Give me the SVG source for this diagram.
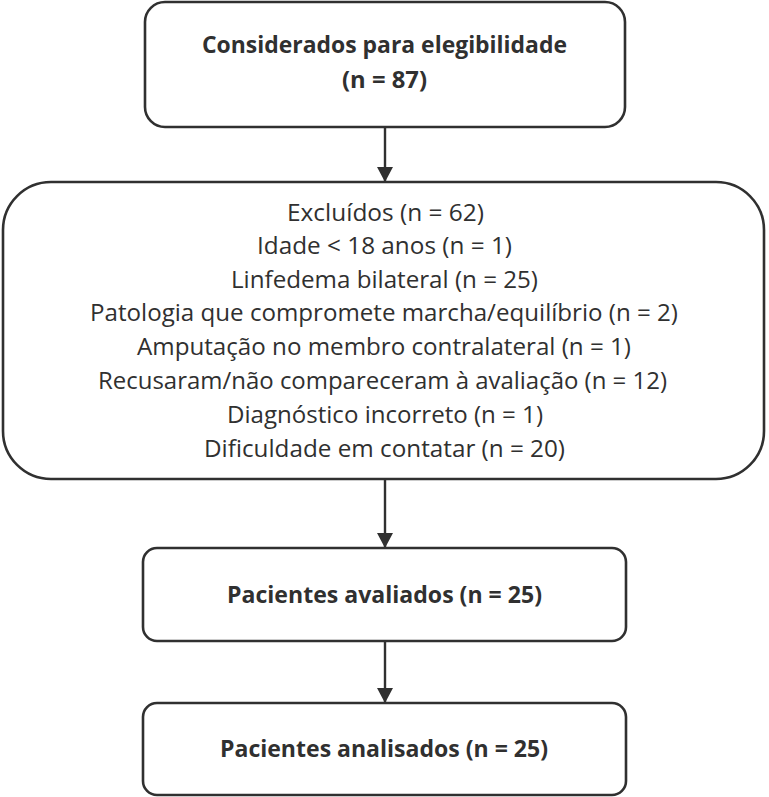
<svg xmlns="http://www.w3.org/2000/svg" width="769" height="797" viewBox="0 0 769 797">
<style>
.box{fill:#ffffff;stroke:#303030;stroke-width:2.6}
.t{font-family:"Open Sans","Lato","Liberation Sans",sans-serif;font-size:23px;fill:#303030;text-anchor:middle}
.b{font-weight:bold}
.edge{stroke:#303030;stroke-width:2.4;fill:none}
</style>
<defs>
<marker id="ah" markerUnits="userSpaceOnUse" markerWidth="16" markerHeight="16" viewBox="0 0 16 16" refX="15" refY="8" orient="auto">
<path d="M0,0 L15,8 L0,16 Z" fill="#303030"/>
</marker>
</defs>
<rect width="769" height="797" fill="#ffffff"/>
<g id="connectors">
<line class="edge" x1="385" y1="127" x2="385" y2="182" marker-end="url(#ah)"/>
<line class="edge" x1="385" y1="479" x2="385" y2="548" marker-end="url(#ah)"/>
<line class="edge" x1="385" y1="641" x2="385" y2="703" marker-end="url(#ah)"/>
</g>
<g id="node-eligibility">
<rect class="box" x="145" y="2" width="480" height="125" rx="20"/>
<text class="t b" x="384.5" y="53" textLength="365" lengthAdjust="spacingAndGlyphs">Considerados para elegibilidade</text>
<text class="t b" x="384.5" y="88" textLength="85" lengthAdjust="spacingAndGlyphs">(n = 87)</text>
</g>
<g id="node-excluded">
<rect class="box" x="3" y="182" width="761" height="297" rx="48"/>
<text class="t" x="385.5" y="220.5" textLength="197" lengthAdjust="spacingAndGlyphs">Excluídos (n = 62)</text>
<text class="t" x="384.5" y="254" textLength="255" lengthAdjust="spacingAndGlyphs">Idade &lt; 18 anos (n = 1)</text>
<text class="t" x="384.5" y="287.5" textLength="307" lengthAdjust="spacingAndGlyphs">Linfedema bilateral (n = 25)</text>
<text class="t" x="384" y="321" textLength="588" lengthAdjust="spacingAndGlyphs">Patologia que compromete marcha/equilíbrio (n = 2)</text>
<text class="t" x="384" y="355" textLength="494" lengthAdjust="spacingAndGlyphs">Amputação no membro contralateral (n = 1)</text>
<text class="t" x="382.5" y="389" textLength="569" lengthAdjust="spacingAndGlyphs">Recusaram/não compareceram à avaliação (n = 12)</text>
<text class="t" x="385" y="422.5" textLength="316" lengthAdjust="spacingAndGlyphs">Diagnóstico incorreto (n = 1)</text>
<text class="t" x="384.5" y="456.5" textLength="361" lengthAdjust="spacingAndGlyphs">Dificuldade em contatar (n = 20)</text>
</g>
<g id="node-evaluated">
<rect class="box" x="143" y="548" width="483" height="93" rx="14"/>
<text class="t b" x="384.5" y="603" textLength="315" lengthAdjust="spacingAndGlyphs">Pacientes avaliados (n = 25)</text>
</g>
<g id="node-analyzed">
<rect class="box" x="143" y="703" width="483" height="92" rx="14"/>
<text class="t b" x="384" y="757" textLength="328" lengthAdjust="spacingAndGlyphs">Pacientes analisados (n = 25)</text>
</g>
</svg>
